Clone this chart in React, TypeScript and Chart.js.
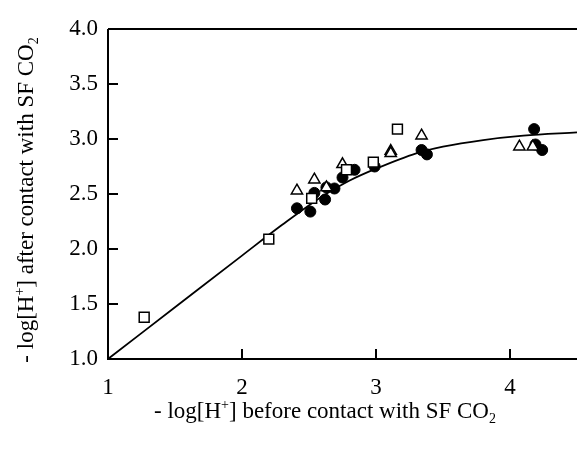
import React, { useEffect, useRef } from "react";
import { Chart, registerables } from "chart.js";

Chart.register(...registerables);

const CURVE_X = [1.0, 1.5, 2.0, 2.3, 2.6, 2.8, 3.0, 3.3, 3.5, 3.8, 4.1, 4.5];
const CURVE_Y = [1.0, 1.47, 1.94, 2.22, 2.48, 2.62, 2.73, 2.87, 2.93, 2.99, 3.03, 3.06];
const CIRCLE_X = [2.41, 2.51, 2.54, 2.62, 2.63, 2.69, 2.75, 2.84, 2.99, 3.34, 3.38, 4.18, 4.19, 4.24];
const CIRCLE_Y = [2.37, 2.34, 2.51, 2.45, 2.56, 2.55, 2.65, 2.72, 2.75, 2.9, 2.86, 3.09, 2.95, 2.9];
const TRIANGLE_X = [2.41, 2.54, 2.63, 2.75, 3.11, 3.11, 3.34, 4.07, 4.17];
const TRIANGLE_Y = [2.53, 2.63, 2.56, 2.77, 2.89, 2.87, 3.03, 2.93, 2.93];
const SQUARE_X = [1.27, 2.2, 2.52, 2.78, 2.98, 3.16];
const SQUARE_Y = [1.38, 2.09, 2.46, 2.72, 2.79, 3.09];
const X_TICKS = [1, 2, 3, 4];
const Y_TICKS = [1.0, 1.5, 2.0, 2.5, 3.0, 3.5, 4.0];

const X_TITLE = [
  { t: "- log[H", k: "n" },
  { t: "+", k: "sup" },
  { t: "] before contact with SF CO", k: "n" },
  { t: "2", k: "sub" },
];
const Y_TITLE = [
  { t: "- log[H", k: "n" },
  { t: "+", k: "sup" },
  { t: "] after contact with SF CO", k: "n" },
  { t: "2", k: "sub" },
];

const FONT = "'Liberation Serif', 'Times New Roman', serif";
const zip = (xs: number[], ys: number[]) => xs.map((x, i) => ({ x, y: ys[i] }));

function drawRich(ctx: CanvasRenderingContext2D, segs: { t: string; k: string }[], cx: number, cy: number) {
  const main = `23px ${FONT}`;
  const small = `14px ${FONT}`;
  let total = 0;
  for (const s of segs) {
    ctx.font = s.k === "n" ? main : small;
    total += ctx.measureText(s.t).width;
  }
  let x = cx - total / 2;
  ctx.textBaseline = "alphabetic";
  ctx.textAlign = "left";
  for (const s of segs) {
    ctx.font = s.k === "n" ? main : small;
    const dy = s.k === "sup" ? -9 : s.k === "sub" ? 5 : 0;
    ctx.fillText(s.t, x, cy + dy);
    x += ctx.measureText(s.t).width;
  }
}

const framePlugin = {
  id: "frame",
  afterDraw(chart: any) {
    const { ctx, chartArea } = chart;
    const { left, right, top, bottom } = chartArea;
    const xs = chart.scales.x;
    const ys = chart.scales.y;
    ctx.save();
    ctx.strokeStyle = "#000";
    ctx.lineWidth = 2;
    ctx.beginPath();
    ctx.moveTo(left, top);
    ctx.lineTo(right, top);
    ctx.moveTo(left, top);
    ctx.lineTo(left, bottom);
    ctx.lineTo(right, bottom);
    for (const v of Y_TICKS) {
      if (v === ys.min || v === ys.max) continue;
      const py = Math.round(ys.getPixelForValue(v));
      ctx.moveTo(left, py);
      ctx.lineTo(left + 10, py);
    }
    for (const v of X_TICKS) {
      if (v === xs.min) continue;
      const px = Math.round(xs.getPixelForValue(v));
      ctx.moveTo(px, bottom);
      ctx.lineTo(px, bottom - 10);
    }
    ctx.stroke();

    ctx.fillStyle = "#000";
    drawRich(ctx, X_TITLE, 325, 418);
    ctx.translate(33, 200);
    ctx.rotate(-Math.PI / 2);
    drawRich(ctx, Y_TITLE, 0, 0);
    ctx.restore();
  },
};

export default function App() {
  const ref = useRef<HTMLCanvasElement | null>(null);
  useEffect(() => {
    document.body.style.margin = "0";
    const chart = new Chart(ref.current as HTMLCanvasElement, {
      type: "scatter",
      data: {
        datasets: [
          { label: "squares", data: zip(SQUARE_X, SQUARE_Y), pointStyle: "rect", pointRadius: 7, backgroundColor: "#fff", borderColor: "#000", borderWidth: 1.5, order: 0 },
          { label: "triangles", data: zip(TRIANGLE_X, TRIANGLE_Y), pointStyle: "triangle", pointRadius: 6.5, backgroundColor: "#fff", borderColor: "#000", borderWidth: 1.5, order: 1 },
          { label: "circles", data: zip(CIRCLE_X, CIRCLE_Y), pointStyle: "circle", pointRadius: 5.5, backgroundColor: "#000", borderColor: "#000", borderWidth: 1, order: 2 },
          { label: "fit", data: zip(CURVE_X, CURVE_Y), showLine: true, pointRadius: 0, borderColor: "#000", borderWidth: 1.8, cubicInterpolationMode: "monotone", fill: false, order: 3 } as any,
        ],
      },
      options: {
        animation: false,
        responsive: true,
        maintainAspectRatio: false,
        layout: { autoPadding: false, padding: { top: 29, right: 0, left: 0, bottom: 0 } },
        plugins: { legend: { display: false }, tooltip: { enabled: false } },
        scales: {
          x: {
            type: "linear",
            min: 1,
            max: 4.5,
            grid: { display: false, drawTicks: false },
            border: { display: false },
            afterBuildTicks: (s: any) => { s.ticks = X_TICKS.map((v) => ({ value: v })); },
            afterFit: (s: any) => { s.height = 95; s.paddingLeft = 0; s.paddingRight = 0; },
            ticks: { color: "#000", padding: 15, maxRotation: 0, autoSkip: false, font: { family: FONT, size: 23 }, callback: (v: any) => String(v) },
          },
          y: {
            type: "linear",
            min: 1,
            max: 4,
            grid: { display: false, drawTicks: false },
            border: { display: false },
            afterBuildTicks: (s: any) => { s.ticks = Y_TICKS.map((v) => ({ value: v })); },
            afterFit: (s: any) => { s.width = 108; s.paddingTop = 0; s.paddingBottom = 0; },
            ticks: { color: "#000", padding: 10, autoSkip: false, font: { family: FONT, size: 23 }, callback: (v: any) => Number(v).toFixed(1) },
          },
        },
      },
      plugins: [framePlugin],
    });
    return () => chart.destroy();
  }, []);
  return (
    <div style={{ width: 577, height: 454, position: "relative" }}>
      <canvas ref={ref} />
    </div>
  );
}
